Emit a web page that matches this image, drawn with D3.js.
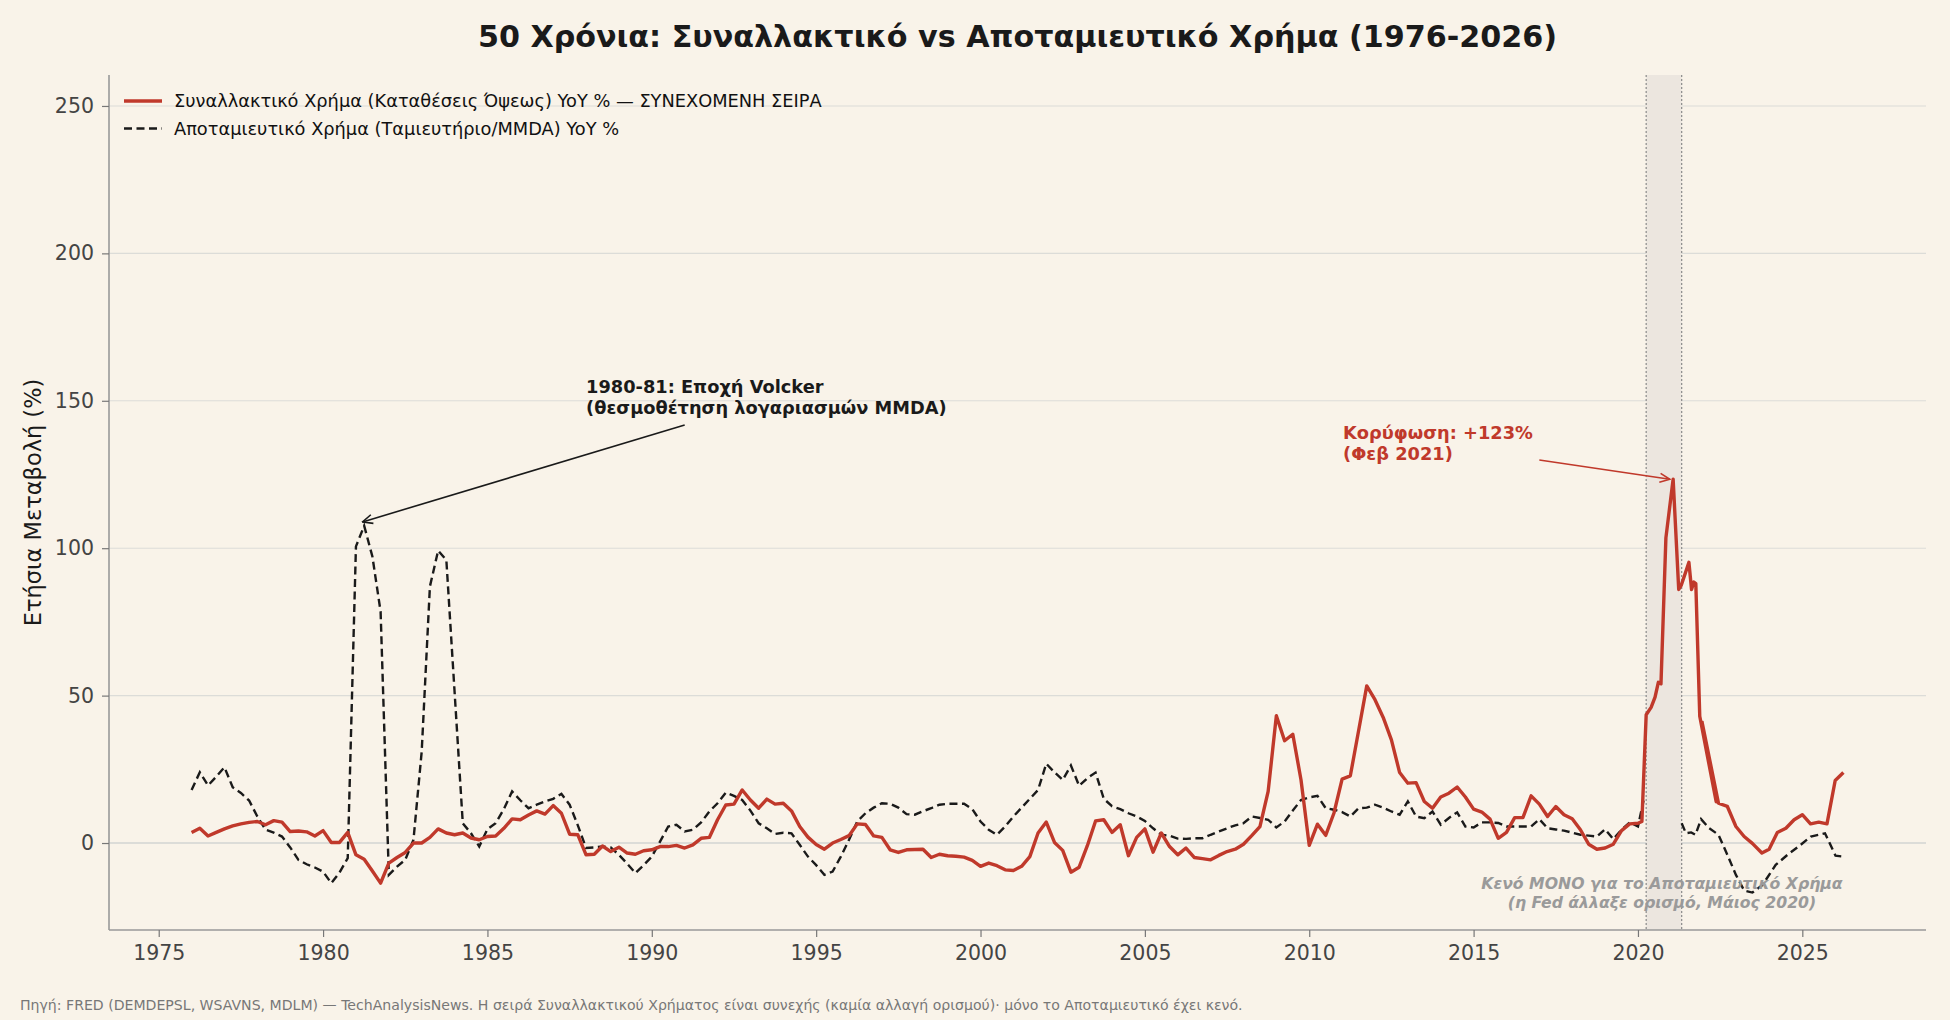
<!DOCTYPE html>
<html>
<head>
<meta charset="utf-8">
<script src="https://cdn.jsdelivr.net/npm/d3@7"></script>
<style>
  html, body { margin: 0; padding: 0; background: #f9f3e9; }
  svg { display: block; font-family: "DejaVu Sans", sans-serif; }
</style>
</head>
<body>
<div id="container"></div>
<script>
/* DATA */
const demandYoY = [
  [1976.00, 3.6], [1976.25, 5.0], [1976.50, 2.4], [1976.75, 3.6], [1977.00, 4.8], [1977.25, 5.8],
  [1977.50, 6.5], [1977.75, 7.0], [1978.00, 7.3], [1978.25, 6.2], [1978.50, 7.6], [1978.75, 7.1],
  [1979.00, 3.9], [1979.25, 4.1], [1979.50, 3.8], [1979.75, 2.4], [1980.00, 4.2], [1980.25, 0.2],
  [1980.50, 0.2], [1980.75, 3.6], [1981.00, -4.0], [1981.25, -5.5], [1981.50, -9.5], [1981.75, -13.6],
  [1982.00, -6.8], [1982.25, -4.9], [1982.50, -3.2], [1982.75, 0.0], [1983.00, 0.0], [1983.25, 1.9],
  [1983.50, 4.8], [1983.75, 3.4], [1984.00, 2.8], [1984.25, 3.4], [1984.50, 1.7], [1984.75, 1.1],
  [1985.00, 2.2], [1985.25, 2.4], [1985.50, 5.0], [1985.75, 8.2], [1986.00, 7.9], [1986.25, 9.5],
  [1986.50, 10.9], [1986.75, 9.8], [1987.00, 12.7], [1987.25, 10.1], [1987.50, 3.0], [1987.75, 2.8],
  [1988.00, -4.0], [1988.25, -3.8], [1988.50, -1.0], [1988.75, -2.9], [1989.00, -1.4], [1989.25, -3.4],
  [1989.50, -3.8], [1989.75, -2.6], [1990.00, -2.3], [1990.25, -1.2], [1990.50, -1.2], [1990.75, -0.8],
  [1991.00, -1.7], [1991.25, -0.6], [1991.50, 1.6], [1991.75, 1.9], [1992.00, 7.9], [1992.25, 12.9],
  [1992.50, 13.2], [1992.75, 18.0], [1993.00, 14.6], [1993.25, 11.8], [1993.50, 14.9], [1993.75, 13.2],
  [1994.00, 13.5], [1994.25, 10.9], [1994.50, 5.6], [1994.75, 2.0], [1995.00, -0.5], [1995.25, -2.1],
  [1995.50, 0.0], [1995.75, 1.2], [1996.00, 2.5], [1996.25, 6.5], [1996.50, 6.3], [1996.75, 2.4],
  [1997.00, 1.9], [1997.25, -2.3], [1997.50, -3.2], [1997.75, -2.3], [1998.00, -2.2], [1998.25, -2.1],
  [1998.50, -4.9], [1998.75, -3.8], [1999.00, -4.3], [1999.25, -4.5], [1999.50, -4.8], [1999.75, -5.9],
  [2000.00, -7.9], [2000.25, -6.8], [2000.50, -7.7], [2000.75, -9.1], [2001.00, -9.3], [2001.25, -7.9],
  [2001.50, -4.6], [2001.75, 3.4], [2002.00, 7.1], [2002.25, 0.2], [2002.50, -2.5], [2002.75, -9.9],
  [2003.00, -8.2], [2003.25, -0.9], [2003.50, 7.5], [2003.75, 7.9], [2004.00, 3.6], [2004.25, 6.2],
  [2004.50, -4.3], [2004.75, 1.9], [2005.00, 4.8], [2005.25, -3.1], [2005.50, 3.4], [2005.75, -1.2],
  [2006.00, -4.0], [2006.25, -1.7], [2006.50, -4.9], [2006.75, -5.3], [2007.00, -5.7], [2007.25, -4.2],
  [2007.50, -2.9], [2007.75, -2.1], [2008.00, -0.4], [2008.25, 2.5], [2008.50, 5.6], [2008.75, 17.5],
  [2009.00, 43.2], [2009.25, 34.7], [2009.50, 36.9], [2009.75, 21.4], [2010.00, -0.8], [2010.25, 6.4],
  [2010.50, 2.6], [2010.75, 10.1], [2011.00, 21.7], [2011.25, 22.8], [2011.50, 38.0], [2011.75, 53.3],
  [2012.00, 48.6], [2012.25, 42.6], [2012.50, 35.0], [2012.75, 23.9], [2013.00, 20.3], [2013.25, 20.5],
  [2013.50, 14.1], [2013.75, 11.8], [2014.00, 15.6], [2014.25, 16.9], [2014.50, 19.0], [2014.75, 15.6],
  [2015.00, 11.5], [2015.25, 10.5], [2015.50, 8.1], [2015.75, 1.6], [2016.00, 3.6], [2016.25, 8.6],
  [2016.50, 8.6], [2016.75, 16.0], [2017.00, 13.2], [2017.25, 9.0], [2017.50, 12.4], [2017.75, 9.6],
  [2018.00, 8.2], [2018.25, 4.5], [2018.50, -0.4], [2018.75, -2.1], [2019.00, -1.7], [2019.25, -0.4],
  [2019.50, 4.2], [2019.75, 6.5], [2020.00, 6.7], [2020.12, 7.3], [2020.25, 43.5], [2020.40, 46.0],
  [2020.52, 49.5], [2020.62, 54.5], [2020.70, 54.0], [2020.85, 103.5], [2021.07, 123.4], [2021.24, 86.0],
  [2021.32, 87.5], [2021.55, 95.2], [2021.63, 86.0], [2021.70, 88.5], [2021.76, 88.0], [2021.88, 43.0],
  [2022.38, 14.0], [2021.95, 41.0], [2022.45, 13.5], [2022.72, 12.4], [2022.98, 5.6], [2023.23, 2.2],
  [2023.48, -0.1], [2023.77, -3.4], [2023.99, -2.1], [2024.24, 3.6], [2024.50, 5.0], [2024.75, 7.9],
  [2025.00, 9.6], [2025.25, 6.5], [2025.50, 7.1], [2025.75, 6.5], [2026.00, 21.2], [2026.25, 23.9]
];

const savingsYoY = [
  [1976.00, 18.0], [1976.25, 24.0], [1976.50, 19.5], [1976.75, 22.5], [1977.00, 25.7], [1977.25, 18.9],
  [1977.50, 17.0], [1977.75, 14.4], [1978.00, 9.0], [1978.25, 4.5], [1978.50, 3.5], [1978.75, 2.2],
  [1979.00, -1.5], [1979.25, -5.7], [1979.50, -7.2], [1979.75, -8.3], [1980.00, -9.7], [1980.25, -13.6],
  [1980.50, -10.0], [1980.75, -5.1], [1981.00, 100.6], [1981.25, 107.6], [1981.50, 97.2], [1981.75, 78.5],
  [1982.00, -10.8], [1982.25, -8.0], [1982.50, -5.7], [1982.75, 1.1], [1983.00, 31.0], [1983.25, 87.0],
  [1983.50, 99.2], [1983.75, 96.0], [1984.25, 6.7], [1984.50, 3.3], [1984.75, -1.2], [1985.00, 4.7],
  [1985.25, 6.7], [1985.50, 11.5], [1985.75, 17.5], [1986.00, 14.5], [1986.25, 11.8], [1986.50, 13.0],
  [1986.75, 14.1], [1987.00, 15.0], [1987.25, 16.7], [1987.50, 13.0], [1987.75, 6.0], [1988.00, -1.7],
  [1988.25, -1.5], [1988.50, -1.2], [1988.75, -1.5], [1989.00, -4.0], [1989.25, -7.0], [1989.50, -10.2],
  [1989.75, -7.5], [1990.00, -4.6], [1990.25, 0.5], [1990.50, 5.6], [1990.75, 6.2], [1991.00, 3.9],
  [1991.25, 4.5], [1991.50, 7.0], [1991.75, 10.7], [1992.00, 13.5], [1992.25, 17.1], [1992.50, 16.0],
  [1992.75, 14.6], [1993.00, 11.0], [1993.25, 6.7], [1993.50, 5.0], [1993.75, 3.1], [1994.00, 3.5],
  [1994.25, 3.3], [1994.50, -0.6], [1994.75, -4.6], [1995.00, -7.5], [1995.25, -10.8], [1995.50, -9.7],
  [1995.75, -4.6], [1996.00, 1.1], [1996.25, 7.3], [1996.50, 10.1], [1996.75, 12.0], [1997.00, 13.5],
  [1997.25, 13.3], [1997.50, 12.0], [1997.75, 9.8], [1998.00, 9.6], [1998.25, 10.8], [1998.50, 11.8],
  [1998.75, 13.0], [1999.00, 13.3], [1999.25, 13.3], [1999.50, 13.3], [1999.75, 11.5], [2000.00, 7.3],
  [2000.25, 4.5], [2000.50, 2.8], [2000.75, 5.6], [2001.00, 9.0], [2001.25, 12.0], [2001.50, 15.0],
  [2001.75, 18.0], [2002.00, 26.9], [2002.25, 24.0], [2002.50, 21.4], [2002.75, 26.3], [2003.00, 19.4],
  [2003.25, 22.0], [2003.50, 23.9], [2003.75, 15.0], [2004.00, 12.5], [2004.25, 11.5], [2004.50, 10.1],
  [2004.75, 9.0], [2005.00, 7.5], [2005.25, 5.0], [2005.50, 2.8], [2005.75, 2.5], [2006.00, 1.5],
  [2006.25, 1.4], [2006.50, 1.6], [2006.75, 1.6], [2007.00, 2.8], [2007.25, 3.9], [2007.50, 5.0],
  [2007.75, 6.0], [2008.00, 6.7], [2008.25, 9.0], [2008.50, 8.5], [2008.75, 7.9], [2009.00, 5.3],
  [2009.25, 7.3], [2009.50, 11.0], [2009.75, 14.6], [2010.00, 15.5], [2010.25, 16.0], [2010.50, 11.8],
  [2010.75, 11.3], [2011.00, 10.5], [2011.25, 9.0], [2011.50, 11.8], [2011.75, 12.0], [2012.00, 13.0],
  [2012.25, 12.0], [2012.50, 10.7], [2012.75, 9.6], [2013.00, 14.1], [2013.25, 9.0], [2013.50, 8.4],
  [2013.75, 10.7], [2014.00, 6.2], [2014.25, 8.5], [2014.50, 10.4], [2014.75, 5.6], [2015.00, 5.3],
  [2015.25, 7.0], [2015.50, 7.0], [2015.75, 6.8], [2016.00, 5.6], [2016.25, 5.6], [2016.50, 5.6],
  [2016.75, 5.6], [2017.00, 8.1], [2017.25, 5.0], [2017.50, 4.6], [2017.75, 4.2], [2018.00, 3.5],
  [2018.25, 2.8], [2018.50, 2.5], [2018.75, 2.2], [2019.00, 4.7], [2019.25, 1.3], [2019.50, 4.5],
  [2019.75, 7.0], [2020.00, 5.6], [2020.17, 14.4],
  [2020.75, null], // definition change: no comparable values
  [2021.33, 6.7], [2021.46, 3.3], [2021.62, 3.6], [2021.75, 2.8], [2021.92, 8.1], [2022.17, 5.0],
  [2022.45, 2.8], [2022.72, -4.0], [2022.98, -10.8], [2023.23, -16.1], [2023.48, -16.8], [2023.79, -14.2],
  [2024.19, -7.4], [2024.55, -4.0], [2024.95, -0.6], [2025.26, 2.2], [2025.69, 3.3], [2026.01, -4.3],
  [2026.25, -4.6]
];

const xTicks = [1975, 1980, 1985, 1990, 1995, 2000, 2005, 2010, 2015, 2020, 2025];
const yTicks = [0, 50, 100, 150, 200, 250];
const gapSpan = [2020.25, 2021.33];
const legendLabels = [
  "Συναλλακτικό Χρήμα (Καταθέσεις Όψεως) YoY % — ΣΥΝΕΧΟΜΕΝΗ ΣΕΙΡΑ",
  "Αποταμιευτικό Χρήμα (Ταμιευτήριο/MMDA) YoY %"
];
const peakPoint = [2021.07, 123.4];
const volckerPoint = [1981.2, 108.9];

/* CONSTANTS */
const width = 1950, height = 1020,
  margin = { top: 75, bottom: 90, left: 109, right: 24 };
const red = "#c0392b", ink = "#1a1a1a", bg = "#f9f3e9";

const svg = d3.select("#container")
  .append("svg")
  .attr("width", width)
  .attr("height", height);

svg.append("rect").attr("width", width).attr("height", height).attr("fill", bg);

/* SCALES */
const allX = demandYoY.map(d => d[0]).concat(savingsYoY.map(d => d[0]));
const [x0, x1] = d3.extent(allX);
const pad = (x1 - x0) * 0.05;
const xScale = d3.scaleLinear()
  .domain([x0 - pad, x1 + pad])
  .range([margin.left, width - margin.right]);
const yScale = d3.scaleLinear()
  .domain([-29.5, 260.5])
  .range([height - margin.bottom, margin.top]);

// markers for annotation arrows
const defs = svg.append("defs");
[["arrowInk", ink], ["arrowRed", red]].forEach(([id, c]) => {
  defs.append("marker")
    .attr("id", id)
    .attr("viewBox", "0 0 12 12")
    .attr("refX", 11).attr("refY", 6)
    .attr("markerWidth", 12).attr("markerHeight", 12)
    .attr("markerUnits", "userSpaceOnUse")
    .attr("orient", "auto")
    .append("path")
    .attr("d", "M1,1.5 L11,6 L1,10.5")
    .attr("fill", "none")
    .attr("stroke", c)
    .attr("stroke-width", 1.6);
});

// gridlines
svg.append("g")
  .selectAll("line")
  .data(yTicks)
  .join("line")
  .attr("x1", margin.left).attr("x2", width - margin.right)
  .attr("y1", d => yScale(d)).attr("y2", d => yScale(d))
  .attr("stroke", "#dcdcd8")
  .attr("stroke-width", d => d === 0 ? 2 : 1.1);

// shaded gap span
svg.append("rect")
  .attr("x", xScale(gapSpan[0]))
  .attr("y", margin.top)
  .attr("width", xScale(gapSpan[1]) - xScale(gapSpan[0]))
  .attr("height", height - margin.bottom - margin.top)
  .attr("fill", "#ece6df");

svg.append("g")
  .selectAll("line")
  .data(gapSpan)
  .join("line")
  .attr("x1", d => xScale(d)).attr("x2", d => xScale(d))
  .attr("y1", margin.top).attr("y2", height - margin.bottom)
  .attr("stroke", "#8a8a8a")
  .attr("stroke-width", 1.2)
  .attr("stroke-dasharray", "2,2");

/* LINES */
const line = d3.line()
  .defined(d => d[1] !== null)
  .x(d => xScale(d[0]))
  .y(d => yScale(d[1]));

svg.append("path")
  .datum(savingsYoY)
  .attr("d", line)
  .attr("fill", "none")
  .attr("stroke", ink)
  .attr("stroke-width", 2.4)
  .attr("stroke-dasharray", "8,4.5");

svg.append("path")
  .datum(demandYoY)
  .attr("d", line)
  .attr("fill", "none")
  .attr("stroke", red)
  .attr("stroke-width", 3.4)
  .attr("stroke-linejoin", "round");

/* AXES */
const xAxis = d3.axisBottom(xScale)
  .tickValues(xTicks)
  .tickFormat(d3.format("d"))
  .tickSize(7)
  .tickPadding(8);
const yAxis = d3.axisLeft(yScale)
  .tickValues(yTicks)
  .tickSize(7)
  .tickPadding(8);

const gx = svg.append("g")
  .attr("transform", `translate(0, ${height - margin.bottom})`)
  .call(xAxis);
const gy = svg.append("g")
  .attr("transform", `translate(${margin.left}, 0)`)
  .call(yAxis);

[gx, gy].forEach(g => {
  g.select(".domain").attr("stroke", "#999").attr("stroke-width", 1.6);
  g.selectAll(".tick line").attr("stroke", "#777").attr("stroke-width", 1.2);
  g.selectAll(".tick text")
    .attr("fill", "#444")
    .style("font-family", "DejaVu Sans")
    .style("font-size", "20.5px");
});
// keep the spine exactly at the data limits
gx.select(".domain").attr("d", `M${margin.left},0H${width - margin.right}`);
gy.select(".domain").attr("d", `M0,${height - margin.bottom}V${margin.top}`);

svg.append("text")
  .attr("transform", `translate(34, ${(margin.top + height - margin.bottom) / 2}) rotate(-90)`)
  .attr("text-anchor", "middle")
  .attr("dominant-baseline", "middle")
  .attr("fill", ink)
  .style("font-size", "22.5px")
  .text("Ετήσια Μεταβολή (%)");

/* TITLE */
svg.append("text")
  .attr("x", (margin.left + width - margin.right) / 2)
  .attr("y", 47)
  .attr("text-anchor", "middle")
  .attr("fill", ink)
  .style("font-size", "30.2px")
  .style("font-weight", "bold")
  .text("50 Χρόνια: Συναλλακτικό vs Αποταμιευτικό Χρήμα (1976-2026)");

/* LEGEND */
const legend = svg.append("g").attr("transform", "translate(124, 101)");
legendLabels.forEach((label, i) => {
  const row = legend.append("g").attr("transform", `translate(0, ${i * 27.5})`);
  row.append("line")
    .attr("x1", 0).attr("x2", 38)
    .attr("stroke", i === 0 ? red : ink)
    .attr("stroke-width", i === 0 ? 3.4 : 2.4)
    .attr("stroke-dasharray", i === 0 ? null : "8,4.5");
  row.append("text")
    .attr("x", 50)
    .attr("dy", "0.35em")
    .attr("fill", "#111")
    .style("font-size", "17.8px")
    .text(label);
});

/* ANNOTATIONS */
// Volcker era
svg.append("line")
  .attr("x1", xScale(1991.0)).attr("y1", yScale(141.8))
  .attr("x2", xScale(volckerPoint[0])).attr("y2", yScale(volckerPoint[1]))
  .attr("stroke", ink)
  .attr("stroke-width", 1.6)
  .attr("marker-end", "url(#arrowInk)");

const volcker = svg.append("text")
  .attr("x", xScale(1988.0))
  .attr("y", yScale(152.5))
  .attr("fill", ink)
  .style("font-size", "17.8px")
  .style("font-weight", "bold");
volcker.append("tspan").text("1980-81: Εποχή Volcker");
volcker.append("tspan").attr("x", xScale(1988.0)).attr("dy", "1.18em")
  .text("(θεσμοθέτηση λογαριασμών MMDA)");

// peak
svg.append("line")
  .attr("x1", xScale(2017.0)).attr("y1", yScale(129.9))
  .attr("x2", xScale(peakPoint[0] - 0.1)).attr("y2", yScale(peakPoint[1]))
  .attr("stroke", red)
  .attr("stroke-width", 1.6)
  .attr("marker-end", "url(#arrowRed)");

const peak = svg.append("text")
  .attr("x", xScale(2011.03))
  .attr("y", yScale(137.0))
  .attr("fill", red)
  .style("font-size", "17.8px")
  .style("font-weight", "bold");
peak.append("tspan").text("Κορύφωση: +123%");
peak.append("tspan").attr("x", xScale(2011.03)).attr("dy", "1.16em").text("(Φεβ 2021)");

// gap note
const gapNote = svg.append("text")
  .attr("x", xScale(2020.73))
  .attr("y", yScale(-15.5))
  .attr("text-anchor", "middle")
  .attr("fill", "#9a9a9a")
  .style("font-size", "15.7px")
  .style("font-weight", "bold")
  .style("font-style", "italic");
gapNote.append("tspan").text("Κενό ΜΟΝΟ για το Αποταμιευτικό Χρήμα");
gapNote.append("tspan").attr("x", xScale(2020.73)).attr("dy", "1.25em")
  .text("(η Fed άλλαξε ορισμό, Μάιος 2020)");

/* FOOTER */
svg.append("text")
  .attr("x", 20)
  .attr("y", 1010)
  .attr("fill", "#777")
  .style("font-size", "14.1px")
  .text("Πηγή: FRED (DEMDEPSL, WSAVNS, MDLM) — TechAnalysisNews. Η σειρά Συναλλακτικού Χρήματος είναι συνεχής (καμία αλλαγή ορισμού)· μόνο το Αποταμιευτικό έχει κενό.");
</script>
</body>
</html>
